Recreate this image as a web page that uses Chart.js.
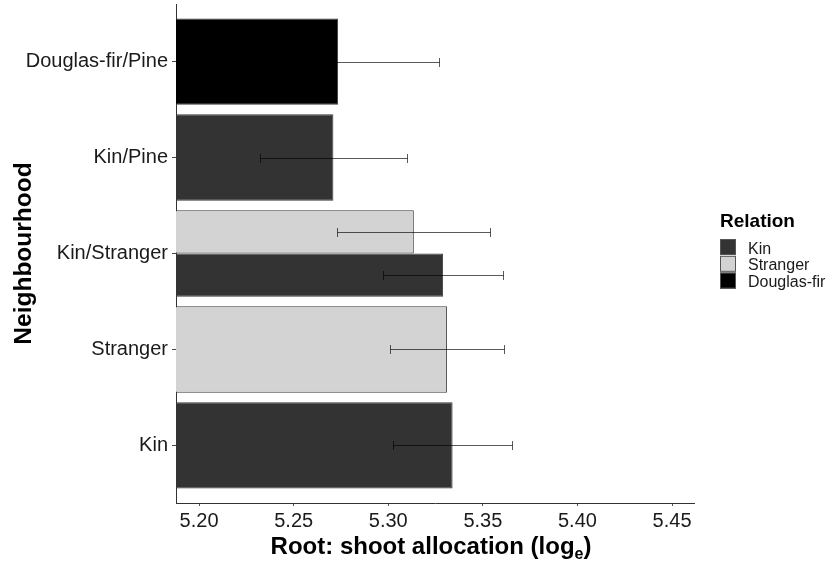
<!DOCTYPE html>
<html><head><meta charset="utf-8">
<script src="https://cdn.jsdelivr.net/npm/chart.js@4"></script>
<style>html,body{margin:0;padding:0;background:#fff}</style>
</head><body>
<canvas id="c" width="834" height="564"></canvas>
<script>
// ---- data ----
const categories = ['Douglas-fir/Pine', 'Kin/Pine', 'Kin/Stranger', 'Stranger', 'Kin'];
const kinMean      = [null, 5.271, 5.329, null, 5.334];
const kinSE        = [null, 0.039, 0.0317, null, 0.0315];
const strangerMean = [null, null, 5.3135, 5.331, null];
const strangerSE   = [null, null, 0.0405, 0.0303, null];
const dfMean       = [5.2735, null, null, null, null];
const dfSE         = [0.0534, null, null, null, null];
const xTicks = [5.20, 5.25, 5.30, 5.35, 5.40, 5.45];
const xMin = 5.1878, xMax = 5.4616;
const legendTitle = 'Relation';
const xTitle = 'Root: shoot allocation (log';
const xTitleSub = 'e';
const yTitle = 'Neighbourhood';

const FONT = "'Liberation Sans', Arial, Helvetica, sans-serif";
const INK = '#1a1a1a';
const AXIS = '#333333';

const series = [
  {label: 'Kin',         means: kinMean,      se: kinSE,      color: '#333333', order: 1},
  {label: 'Stranger',    means: strangerMean, se: strangerSE, color: '#d3d3d3', order: 0},
  {label: 'Douglas-fir', means: dfMean,       se: dfSE,       color: '#000000', order: 2}
];

const datasets = series.map(s => ({
  label: s.label,
  data: categories.map((c, i) => ({y: i + 1, x: s.means[i]})),
  se: s.se,
  means: s.means,
  backgroundColor: s.color,
  borderColor: '#3a3a3a',
  borderWidth: 1,
  order: s.order,
  skipNull: true,
  categoryPercentage: 0.9,
  barPercentage: 1.0
}));

const errorBars = {
  id: 'errorBars',
  afterDatasetsDraw(chart) {
    const ctx = chart.ctx;
    const xs = chart.scales.x;
    ctx.save();
    ctx.strokeStyle = '#000';
    ctx.lineWidth = 0.65;
    chart.data.datasets.forEach((ds, di) => {
      const meta = chart.getDatasetMeta(di);
      meta.data.forEach((el, i) => {
        const m = ds.means[i], e = ds.se[i];
        if (m == null || e == null) return;
        const y = Math.round(el.y) + 0.5;
        const x1 = Math.round(xs.getPixelForValue(m - e)) + 0.5;
        const x2 = Math.round(xs.getPixelForValue(m + e)) + 0.5;
        const cap = 4.5;
        ctx.beginPath();
        ctx.moveTo(x1, y); ctx.lineTo(x2, y);
        ctx.moveTo(x1, y - cap); ctx.lineTo(x1, y + cap);
        ctx.moveTo(x2, y - cap); ctx.lineTo(x2, y + cap);
        ctx.stroke();
      });
    });
    ctx.restore();
  }
};

const extras = {
  id: 'extras',
  afterDraw(chart) {
    const ctx = chart.ctx;
    const area = chart.chartArea;
    ctx.save();
    // x-axis title with subscript
    const big = 'bold 24px ' + FONT, small = 'bold 16px ' + FONT;
    ctx.fillStyle = '#000';
    ctx.textBaseline = 'alphabetic';
    ctx.textAlign = 'left';
    ctx.font = big; const w1 = ctx.measureText(xTitle).width; const w3 = ctx.measureText(')').width;
    ctx.font = small; const w2 = ctx.measureText(xTitleSub).width;
    const total = w1 + w2 + w3;
    let x = 431 - total / 2;
    const base = 554;
    ctx.font = big; ctx.fillText(xTitle, x, base); x += w1;
    ctx.font = small; ctx.fillText(xTitleSub, x, base + 5); x += w2;
    ctx.font = big; ctx.fillText(')', x, base);

    // legend
    const lx = 720;
    ctx.font = 'bold 19px ' + FONT;
    ctx.fillStyle = '#000';
    ctx.fillText(legendTitle, lx, 227);
    ctx.font = '16px ' + FONT;
    series.forEach((s, i) => {
      const top = 239 + i * 16.8;
      ctx.fillStyle = s.color;
      ctx.fillRect(lx, top, 16, 16);
      ctx.strokeStyle = '#555';
      ctx.lineWidth = 1;
      ctx.strokeRect(lx + 0.5, top + 0.5, 15, 15);
      ctx.fillStyle = INK;
      ctx.fillText(s.label, lx + 28, top + 14.5);
    });
    ctx.restore();
  }
};

new Chart(document.getElementById('c'), {
  type: 'bar',
  data: {datasets},
  options: {
    indexAxis: 'y',
    responsive: false,
    animation: false,
    devicePixelRatio: 1,
    layout: {padding: {left: 0, top: 4, right: 140, bottom: 0}},
    plugins: {legend: {display: false}, tooltip: {enabled: false}},
    scales: {
      x: {
        type: 'linear',
        position: 'bottom',
        min: xMin, max: xMax,
        offset: false,
        afterBuildTicks: s => { s.ticks = xTicks.map(v => ({value: v})); },
        afterFit: s => { s.height = 61; s.paddingLeft = 0; s.paddingRight = 0; },
        ticks: {
          callback: v => Number(v).toFixed(2),
          font: {family: FONT, size: 20},
          color: INK,
          padding: 3,
          maxRotation: 0,
          autoSkip: false
        },
        grid: {display: true, offset: false, drawOnChartArea: false, drawTicks: true, tickLength: 3, color: '#555'},
        border: {display: true, color: AXIS, width: 1},
        title: {display: false}
      },
      y: {
        type: 'linear',
        position: 'left',
        reverse: true,
        min: 0.4, max: 5.6,
        offset: false,
        afterBuildTicks: s => { s.ticks = categories.map((c, i) => ({value: i + 1})); },
        afterFit: s => { s.width = 176; s.paddingTop = 0; s.paddingBottom = 0; },
        ticks: {
          callback: v => categories[Math.round(v) - 1],
          font: {family: FONT, size: 20},
          color: INK,
          padding: 4,
          autoSkip: false
        },
        grid: {display: true, offset: false, drawOnChartArea: false, drawTicks: true, tickLength: 4, color: '#444'},
        border: {display: true, color: AXIS, width: 1},
        title: {
          display: true,
          text: yTitle,
          font: {family: FONT, size: 24.5, weight: 'bold'},
          color: '#000',
          padding: {top: 10, bottom: 0}
        }
      }
    }
  },
  plugins: [errorBars, extras]
});
</script>
</body></html>
